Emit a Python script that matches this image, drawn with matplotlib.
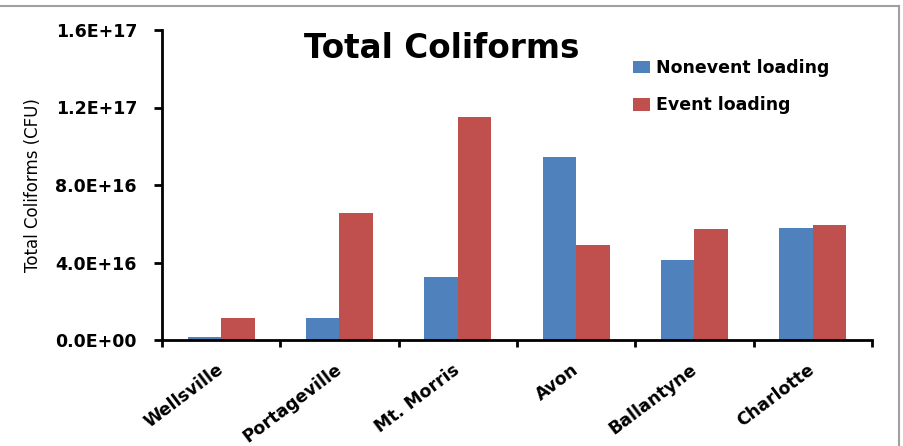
import matplotlib
matplotlib.use("Agg")
import matplotlib.pyplot as plt
from matplotlib.lines import Line2D
import numpy as np

sites = ["Wellsville", "Portageville", "Mt. Morris", "Avon", "Ballantyne", "Charlotte"]
nonevent = [1.5e15, 1.12e16, 3.25e16, 9.42e16, 4.13e16, 5.78e16]
event = [1.12e16, 6.55e16, 1.153e17, 4.9e16, 5.72e16, 5.93e16]
yticks = [0, 4e16, 8e16, 1.2e17, 1.6e17]
ytick_labels = ["0.0E+00", "4.0E+16", "8.0E+16", "1.2E+17", "1.6E+17"]

BLUE = "#4F81BD"
RED = "#C0504D"
plt.rcParams["font.family"] = ["DejaVu Sans"]

fig = plt.figure(figsize=(9.04, 4.46), dpi=100)
ax = fig.add_axes([162 / 904, 1 - 340 / 446, (872 - 162) / 904, (340 - 30) / 446])

x = np.arange(len(sites))
w = 0.283
ax.bar(x - w / 2, nonevent, w, color=BLUE, label="Nonevent loading", zorder=2)
ax.bar(x + w / 2, event, w, color=RED, label="Event loading", zorder=2)

ax.set_xlim(-0.5, len(sites) - 0.5)
ax.set_ylim(0, 1.6e17)

ax.set_yticks(yticks)
ax.set_yticklabels(ytick_labels, fontsize=12.5, fontweight="bold")
ax.tick_params(axis="y", direction="out", length=6, width=2, pad=12)

ax.set_xticks(x)
ax.set_xticklabels(sites, fontsize=12.5, fontweight="bold", rotation=37,
                   ha="right", va="center", rotation_mode="anchor")
ax.tick_params(axis="x", which="major", length=0, pad=20)
ax.set_xticks(np.arange(-0.5, len(sites), 1.0), minor=True)
ax.tick_params(axis="x", which="minor", direction="out", length=5, width=2)

for side in ("top", "right"):
    ax.spines[side].set_visible(False)
for side in ("left", "bottom"):
    ax.spines[side].set_linewidth(2)

fig.text(33 / 904, 1 - 185 / 446, "Total Coliforms (CFU)", fontsize=12,
         rotation=90, ha="center", va="center")

fig.text(442 / 904, 1 - 49 / 446, "Total Coliforms", fontsize=23.5, fontweight="bold",
         ha="center", va="center")

ax.legend(loc="upper left", bbox_to_anchor=(633 / 904, 1 - 59 / 446),
          bbox_transform=fig.transFigure, frameon=False,
          prop={"size": 12.5, "weight": "bold"},
          handlelength=1.0, handleheight=0.75, handletextpad=0.3,
          labelspacing=1.12, borderpad=0, borderaxespad=0)

# outer frame lines along the top and right edges
fig.add_artist(Line2D([0, 899 / 904], [1 - 6 / 446, 1 - 6 / 446],
                      transform=fig.transFigure, color="#A0A0A0", lw=1.5))
fig.add_artist(Line2D([899 / 904, 899 / 904], [0, 1 - 6 / 446],
                      transform=fig.transFigure, color="#A0A0A0", lw=1.5))

fig.savefig("out.png", dpi=100, facecolor="white")
